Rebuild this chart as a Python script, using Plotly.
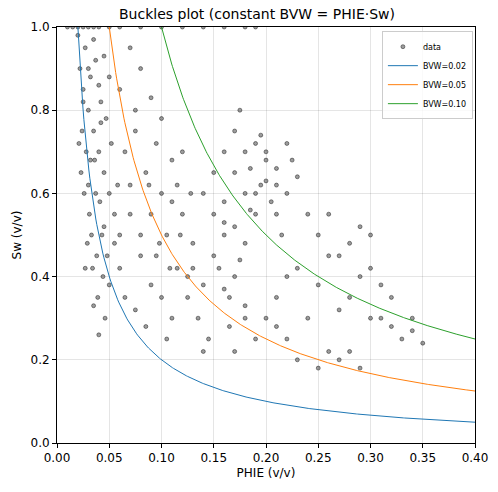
import numpy as np
import plotly.graph_objects as go

phie = [0.02,0.022,0.025,0.027,0.03,0.032,0.035,0.037,0.04,0.042,0.045,0.047,0.05,0.052,0.055,0.03,0.028,0.033,0.038,0.041,0.044,0.036,0.024,0.026,0.031,0.034,0.039,0.043,0.046,0.048,0.021,0.029,0.035,0.04,0.045,0.05,0.055,0.058,0.06,0.025,0.03,0.035,0.04,0.045,0.05,0.023,0.027,0.032,0.037,0.042,
        0.06,0.065,0.07,0.075,0.08,0.085,0.09,0.095,0.1,0.105,0.11,0.115,0.12,0.125,0.13,0.07,0.08,0.09,0.1,0.11,0.12,0.065,0.075,0.085,0.095,0.105,0.115,0.125,0.07,0.08,0.09,0.1,0.11,0.06,0.075,0.088,0.098,0.108,0.118,0.128,
        0.14,0.15,0.16,0.17,0.18,0.19,0.2,0.21,0.22,0.15,0.16,0.17,0.18,0.19,0.2,0.21,0.14,0.155,0.165,0.175,0.185,0.195,0.205,0.215,0.225,0.16,0.17,0.18,0.19,0.2,0.15,0.16,0.17,0.18,0.145,0.135,0.13,0.14,0.165,0.175,0.185,0.195,0.21,0.22,0.23,
        0.2,0.21,0.22,0.23,0.24,0.25,0.26,0.27,0.28,0.29,0.3,0.31,0.32,0.33,0.34,0.35,0.25,0.26,0.27,0.28,0.29,0.3,0.31,0.24,0.23,0.22,0.26,0.28,0.3,0.32,0.34,0.27,0.29,0.25,0.21,0.19,0.18,0.17,0.16,
        0.01,0.015,0.02,0.025,0.03,0.035,0.04,0.05,0.06,0.08,0.1,0.12,0.14,0.16,0.18,0.19]
sw = [0.98,0.9,0.85,0.95,0.8,0.88,0.75,0.92,0.7,0.82,0.65,0.78,0.6,0.72,0.55,0.62,0.7,0.5,0.45,0.58,0.4,0.68,0.75,0.6,0.55,0.42,0.35,0.5,0.3,0.45,0.72,0.48,0.33,0.26,0.52,0.38,0.48,0.62,0.42,0.82,0.9,0.97,0.86,0.93,0.88,0.65,0.42,0.68,0.6,0.77,
      0.85,0.7,0.55,0.8,0.45,0.65,0.38,0.72,0.6,0.5,0.3,0.42,0.55,0.35,0.48,0.95,0.9,0.83,0.78,0.68,0.7,0.35,0.32,0.28,0.45,0.25,0.62,0.4,0.62,0.5,0.55,0.35,0.58,0.5,0.75,0.62,0.48,0.42,0.5,0.6,
      0.6,0.55,0.5,0.65,0.7,0.6,0.68,0.62,0.72,0.45,0.58,0.52,0.48,0.55,0.63,0.66,0.38,0.42,0.35,0.44,0.56,0.62,0.58,0.5,0.68,0.7,0.75,0.6,0.72,0.7,0.65,0.53,0.4,0.3,0.25,0.3,0.42,0.22,0.28,0.8,0.66,0.74,0.55,0.6,0.64,
      0.3,0.35,0.25,0.42,0.3,0.5,0.22,0.45,0.35,0.4,0.5,0.3,0.28,0.25,0.27,0.24,0.38,0.45,0.2,0.48,0.18,0.3,0.38,0.55,0.2,0.4,0.55,0.22,0.42,0.35,0.3,0.32,0.52,0.18,0.28,0.25,0.33,0.22,0.37,
      1,1,1,1,1,1,1,1,1,1,1,1,1,1,1,1]
bvw_values = [0.02, 0.05, 0.10]
line_colors = ["#1f77b4", "#ff7f0e", "#2ca02c"]

fig = go.Figure()
fig.add_trace(go.Scatter(x=phie, y=sw, mode="markers", name="data",
    marker=dict(size=4, color="rgba(90,90,90,0.6)", line=dict(width=0.7, color="rgba(0,0,0,0.6)"))))
for b, c in zip(bvw_values, line_colors):
    xs = np.linspace(b, 0.4, 400)
    fig.add_trace(go.Scatter(x=xs, y=b / xs, mode="lines", name=f"BVW={b:.2f}", line=dict(color=c, width=1)))

ax = dict(showgrid=True, gridcolor="rgba(0,0,0,0.1)", showline=True, linecolor="black", mirror=True,
          ticks="outside", tickcolor="black", ticklen=4, zeroline=False, automargin=False,
          tickfont=dict(size=12, color="black"))
fig.update_layout(
    width=498, height=492, template="none", plot_bgcolor="white",
    font=dict(family="DejaVu Sans", color="black"),
    title=dict(text="Buckles plot (constant BVW = PHIE·Sw)", x=0.5, xanchor="center",
               y=0.997, yanchor="top", font=dict(size=14)),
    margin=dict(l=49, r=31, t=19, b=57),
    xaxis=dict(ax, range=[0, 0.4], dtick=0.05, tickformat=".2f", title=dict(text="PHIE (v/v)", font=dict(size=12), standoff=4)),
    yaxis=dict(ax, range=[0, 1.0], dtick=0.2, tickformat=".1f", title=dict(text="Sw (v/v)", font=dict(size=12), standoff=6)),
    legend=dict(x=0.995, y=0.99, xanchor="right", yanchor="top", font=dict(size=8), tracegroupgap=0,
                itemwidth=30, bgcolor="rgba(255,255,255,0.8)", bordercolor="#ccc", borderwidth=1),
)
fig.write_html("out.html")
